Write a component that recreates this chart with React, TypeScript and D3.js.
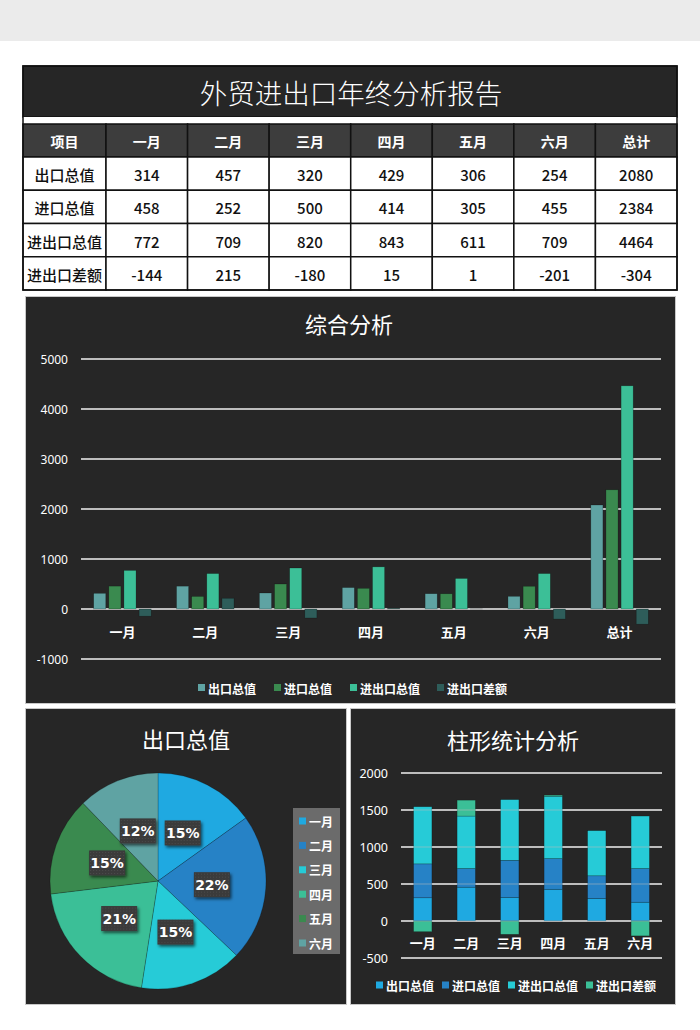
import React from 'react';
import * as d3 from 'd3';

// ---------- DATA ----------
const months = ['一月', '二月', '三月', '四月', '五月', '六月'];
const categories = ['一月', '二月', '三月', '四月', '五月', '六月', '总计'];
const headerLabels = ['项目', '一月', '二月', '三月', '四月', '五月', '六月', '总计'];
const seriesNames = ['出口总值', '进口总值', '进出口总值', '进出口差额'];
const exportRow = [314, 457, 320, 429, 306, 254, 2080];
const importRow = [458, 252, 500, 414, 305, 455, 2384];
const totalRow = [772, 709, 820, 843, 611, 709, 4464];
const diffRow = [-144, 215, -180, 15, 1, -201, -304];
const comboTicks = [-1000, 0, 1000, 2000, 3000, 4000, 5000];
const stackTicks = [-500, 0, 500, 1000, 1500, 2000];
const pieValues = [314, 457, 320, 429, 306, 254];

const rows = [exportRow, importRow, totalRow, diffRow];

const comboColors = ['#5fa3a3', '#3a8a4f', '#3cbf97', '#2e5d5a'];
const monthColors = ['#1fa9e1', '#2682c6', '#26cbd7', '#3bbf97', '#3a8a4f', '#5fa3a3'];
const stackColors = ['#1fa9e1', '#2682c6', '#26cbd7', '#3bbf97'];

const CJK = '"Noto Sans CJK SC", "Noto Sans", sans-serif';
const PANEL = '#262626';
const GRID = '#bdbdbd';

function Table() {
  const x0 = 23, x1 = 677, firstW = 83;
  const colX = d3.scaleBand<string>().domain(headerLabels.slice(1)).range([x0 + firstW, x1]);
  const rowY = d3.scaleBand<string>().domain(seriesNames).range([157, 290]);
  const cellsX = (i: number) => (i === 0 ? x0 : colX(headerLabels[i])!);
  const cellW = (i: number) => (i === 0 ? firstW : colX.bandwidth());
  return (
    <g>
      <rect x={x0} y={66} width={x1 - x0} height={51} fill={PANEL} stroke="#111" strokeWidth={1.5} />
      <text x={351} y={92} fill="#fff" fontSize={27.5} fontWeight={300} fontFamily={CJK} textAnchor="middle" dominantBaseline="central">
        外贸进出口年终分析报告
      </text>
      <rect x={x0} y={117} width={x1 - x0} height={7} fill="#fff" />
      {headerLabels.map((h, i) => (
        <g key={h}>
          <rect x={cellsX(i)} y={124} width={cellW(i)} height={33} fill="#3d3d3d" stroke="#111" strokeWidth={1.5} />
          <text x={cellsX(i) + cellW(i) / 2} y={141} fill="#fff" fontSize={14} fontWeight="bold" fontFamily={CJK} textAnchor="middle" dominantBaseline="central">{h}</text>
        </g>
      ))}
      {seriesNames.map((name, r) => (
        <g key={name}>
          {[name, ...rows[r].map(String)].map((v, i) => (
            <g key={i}>
              <rect x={cellsX(i)} y={rowY(name)!} width={cellW(i)} height={rowY.bandwidth()} fill="#fff" stroke="#111" strokeWidth={1.5} />
              <text x={cellsX(i) + cellW(i) / 2} y={rowY(name)! + rowY.bandwidth() / 2 + 1} fill="#111" fontSize={15} fontWeight={500} fontFamily={CJK} textAnchor="middle" dominantBaseline="central">{v}</text>
            </g>
          ))}
        </g>
      ))}
      <rect x={x0} y={66} width={x1 - x0} height={224} fill="none" stroke="#111" strokeWidth={1.5} />
    </g>
  );
}

function ComboChart() {
  const y = d3.scaleLinear().domain([-1000, 5000]).range([659, 359]);
  const x0 = d3.scaleBand<string>().domain(categories).range([81, 661]);
  const x1 = d3.scaleBand<string>().domain(seriesNames).range([0, 57.5]).paddingInner(0.2);
  const legendX = [198, 274, 350, 437];
  return (
    <g>
      <rect x={25.5} y={296.5} width={650} height={407} fill={PANEL} stroke="#c8c8c8" strokeWidth={1} />
      <text x={349} y={323} fill="#fff" fontSize={22} fontFamily={CJK} textAnchor="middle" dominantBaseline="central">综合分析</text>
      {comboTicks.map(t => (
        <g key={t}>
          <line x1={81} x2={661} y1={y(t)} y2={y(t)} stroke={GRID} strokeWidth={1.8} />
          <text x={68} y={y(t)} fill="#fff" fontSize={12} fontFamily={'"Noto Sans", sans-serif'} textAnchor="end" dominantBaseline="central">{t}</text>
        </g>
      ))}
      {categories.map((c, ci) => {
        const off = x0(c)! + (x0.bandwidth() - 57.5) / 2;
        return (
          <g key={c}>
            {seriesNames.map((s, si) => {
              const v = rows[si][ci];
              const yy = Math.min(y(v), y(0));
              const h = Math.abs(y(v) - y(0));
              return <rect key={s} x={off + x1(s)!} y={yy} width={x1.bandwidth()} height={h} fill={comboColors[si]} stroke="rgba(0,0,0,0.35)" strokeWidth={0.6} />;
            })}
            <text x={x0(c)! + x0.bandwidth() / 2} y={631} fill="#fff" fontSize={13} fontWeight="bold" fontFamily={CJK} textAnchor="middle" dominantBaseline="central">{c}</text>
          </g>
        );
      })}
      {seriesNames.map((s, i) => (
        <g key={s}>
          <rect x={legendX[i]} y={684} width={7} height={7} fill={comboColors[i]} />
          <text x={legendX[i] + 10} y={688} fill="#fff" fontSize={12} fontWeight="bold" fontFamily={CJK} dominantBaseline="central">{s}</text>
        </g>
      ))}
    </g>
  );
}

function PieChart() {
  const cx = 158, cy = 881, r = 108;
  const arcs = d3.pie<number>().sort(null).value(d => d)(pieValues);
  const arc = d3.arc<d3.PieArcDatum<number>>().innerRadius(0).outerRadius(r);
  const total = d3.sum(pieValues);
  const legY = d3.scalePoint<string>().domain(months).range([821, 943]);
  return (
    <g>
      <rect x={25.5} y={708.5} width={321} height={296} fill={PANEL} stroke="#c8c8c8" strokeWidth={1} />
      <text x={186} y={738} fill="#fff" fontSize={22} fontFamily={CJK} textAnchor="middle" dominantBaseline="central">出口总值</text>
      <g transform={`translate(${cx},${cy})`}>
        {arcs.map((a, i) => (
          <path key={i} d={arc(a)!} fill={monthColors[i]} stroke="rgba(0,0,0,0.25)" strokeWidth={0.8} />
        ))}
        {arcs.map((a, i) => {
          const [lx, ly] = arc.centroid(a);
          const pct = Math.round((a.data / total) * 100) + '%';
          return (
            <g key={'l' + i} transform={`translate(${lx},${ly})`}>
              <rect x={-18} y={-12.5} width={36} height={25} fill="url(#dots)" filter="url(#shadow)" />
              <text x={0} y={0} fill="#fff" fontSize={14} fontWeight="bold" fontFamily={'"DejaVu Sans", sans-serif'} textAnchor="middle" dominantBaseline="central">{pct}</text>
            </g>
          );
        })}
      </g>
      <rect x={293} y={808} width={47} height={146} fill="#6b6b6b" />
      {months.map((m, i) => (
        <g key={m}>
          <rect x={299} y={legY(m)! - 3.5} width={7} height={7} fill={monthColors[i]} />
          <text x={309} y={legY(m)!} fill="#fff" fontSize={12} fontWeight="bold" fontFamily={CJK} dominantBaseline="central">{m}</text>
        </g>
      ))}
    </g>
  );
}

function StackChart() {
  const y = d3.scaleLinear().domain([-500, 2000]).range([958, 773]);
  const x = d3.scaleBand<string>().domain(months).range([401, 662]).paddingInner(0.58).paddingOuter(0.29);
  const data = months.map((m, i) => ({ m, s0: exportRow[i], s1: importRow[i], s2: totalRow[i], s3: diffRow[i] }));
  const keys = ['s0', 's1', 's2', 's3'];
  const stacked = d3.stack<any>().keys(keys).offset(d3.stackOffsetDiverging)(data);
  const legendX = [376, 442, 508, 586];
  return (
    <g>
      <rect x={350.5} y={708.5} width={325} height={296} fill={PANEL} stroke="#c8c8c8" strokeWidth={1} />
      <text x={513} y={739} fill="#fff" fontSize={22} fontFamily={CJK} textAnchor="middle" dominantBaseline="central">柱形统计分析</text>
      {stackTicks.map(t => (
        <g key={t}>
          <line x1={401} x2={662} y1={y(t)} y2={y(t)} stroke={GRID} strokeWidth={1.8} />
          <text x={388} y={y(t)} fill="#fff" fontSize={12.5} fontFamily={'"Noto Sans", sans-serif'} textAnchor="end" dominantBaseline="central">{t}</text>
        </g>
      ))}
      {stacked.map((layer, li) => (
        <g key={li}>
          {layer.map((d, di) => (
            <rect key={di} x={x(data[di].m)!} y={y(d[1])} width={x.bandwidth()} height={Math.max(0, y(d[0]) - y(d[1]))} fill={stackColors[li]} stroke="rgba(0,0,0,0.3)" strokeWidth={0.6} />
          ))}
        </g>
      ))}
      {stackTicks.map(t => (
        <line key={'o' + t} x1={401} x2={662} y1={y(t)} y2={y(t)} stroke={GRID} strokeOpacity={0.35} strokeWidth={1.5} />
      ))}
      {months.map(m => (
        <text key={m} x={x(m)! + x.bandwidth() / 2} y={942} fill="#fff" fontSize={13} fontWeight="bold" fontFamily={CJK} textAnchor="middle" dominantBaseline="central">{m}</text>
      ))}
      {seriesNames.map((s, i) => (
        <g key={s}>
          <rect x={legendX[i]} y={981.5} width={7} height={7} fill={stackColors[i]} />
          <text x={legendX[i] + 10} y={985} fill="#fff" fontSize={12} fontWeight="bold" fontFamily={CJK} dominantBaseline="central">{s}</text>
        </g>
      ))}
    </g>
  );
}

export default function App() {
  return (
    <svg width={700} height={1030} style={{ position: 'absolute', left: 0, top: 0, background: '#fff' }}>
      <defs>
        <pattern id="dots" width="3" height="3" patternUnits="userSpaceOnUse">
          <rect width="3" height="3" fill="#3a3a3a" />
          <rect x="1" y="1" width="1" height="1" fill="#4c4c4c" />
        </pattern>
        <filter id="shadow" x="-30%" y="-30%" width="160%" height="170%">
          <feDropShadow dx="1.5" dy="2" stdDeviation="1.5" floodColor="#000" floodOpacity="0.6" />
        </filter>
      </defs>
      <rect x={0} y={0} width={700} height={1030} fill="#fff" />
      <rect x={0} y={0} width={700} height={41} fill="#ebebeb" />
      <Table />
      <ComboChart />
      <PieChart />
      <StackChart />
    </svg>
  );
}
